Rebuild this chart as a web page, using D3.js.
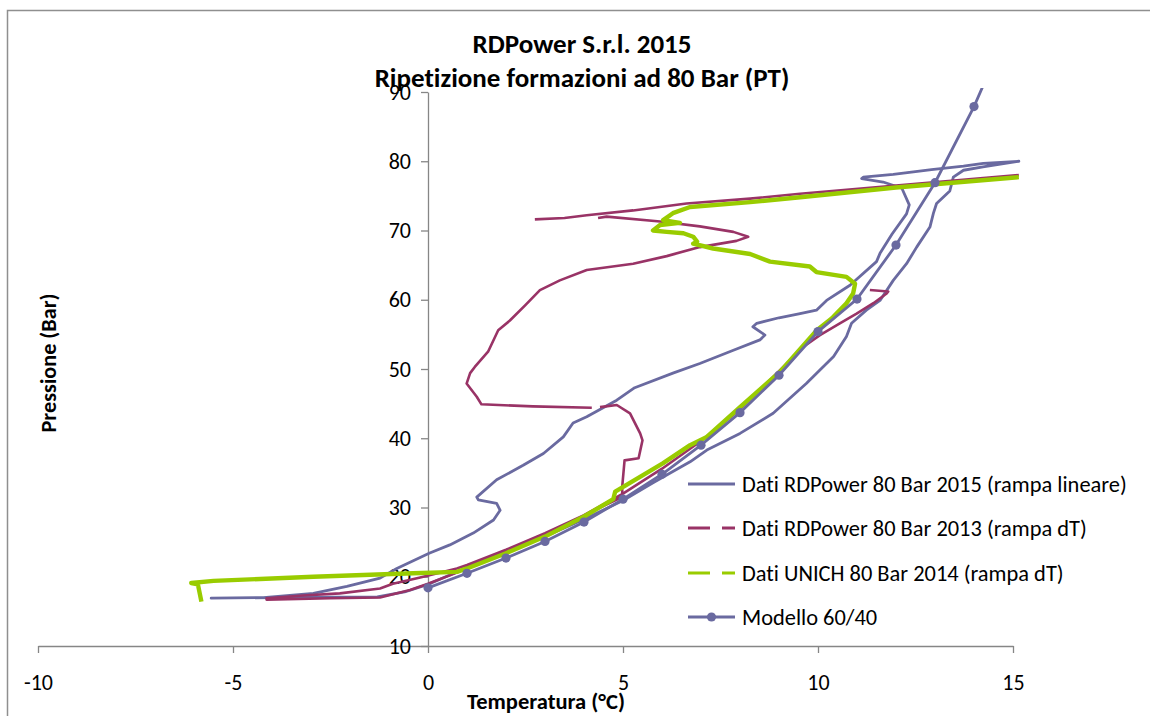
<!DOCTYPE html>
<html>
<head>
<meta charset="utf-8">
<script src="https://cdn.jsdelivr.net/npm/d3@7"></script>
<style>
  html, body { margin: 0; padding: 0; background: #fff; }
  svg { display: block; }
  text { font-family: Carlito, Lato, "Open Sans", sans-serif; fill: #000;
         font-variant-ligatures: none; font-feature-settings: "liga" 0, "clig" 0; }
</style>
</head>
<body>
<svg id="chart" width="1150" height="716"></svg>
<script>
// ---------------- DATA ----------------
const titleLines = ["RDPower S.r.l. 2015", "Ripetizione formazioni ad 80 Bar (PT)"];
const xTitle = "Temperatura (°C)";
const yTitle = "Pressione (Bar)";
const xTicks = [-10, -5, 0, 5, 10, 15];
const yTicks = [10, 20, 30, 40, 50, 60, 70, 80, 90];
const seriesNames = [
  "Dati RDPower 80 Bar 2015 (rampa lineare)",
  "Dati RDPower 80 Bar 2013 (rampa dT)",
  "Dati UNICH 80 Bar 2014 (rampa dT)",
  "Modello 60/40"
];

// Dati RDPower 80 Bar 2015 (rampa lineare): [T, P]
const rdp2015 = [
  [15.15,80.0],[14.24,79.7],[13.73,79.3],[12.91,78.8],[11.93,78.1],[11.16,77.7],[11.12,77.5],
  [11.67,77.0],[12.15,76.1],[12.34,73.7],[12.27,72.4],[11.9,69.5],[11.59,66.7],[11.5,65.5],
  [10.82,62.1],[10.22,59.9],[9.96,58.5],[9.54,58.0],[9.0,57.4],[8.43,56.6],[8.33,56.1],
  [8.64,54.9],[8.51,54.2],[7.83,52.7],[6.97,50.8],[6.28,49.4],[5.3,47.3],[4.84,45.5],
  [4.07,43.1],[3.72,42.2],[3.47,40.2],[2.96,37.8],[2.44,36.1],[1.76,34.0],[1.25,31.5],
  [1.29,31.1],[1.76,30.6],[1.85,29.6],[1.68,28.2],[1.16,26.3],[0.56,24.6],[0.03,23.4],
  [-0.8,21.2],[-1.23,19.8],[-2.08,18.6],[-2.94,17.6],[-4.22,17.0],[-5.56,16.9],
  [-4.0,17.0],[-2.5,17.05],[-1.3,17.1],[-0.6,17.8],[0,18.9],[0.5,20.1],[1,21.3],
  [1.5,22.5],[2,23.5],[3,25.8],[4,28.3],[5,31.0],[5.78,33.6],[6.72,36.6],[7.15,38.3],
  [8,40.7],[8.85,43.6],[9.7,47.9],[10.4,51.8],[10.73,54.7],[10.86,56.6],[11.24,58.5],
  [11.59,59.9],[11.93,62.8],[12.27,65.2],[12.53,67.6],[12.87,70.5],[12.96,72.5],
  [13.04,73.9],[13.38,75.7],[13.47,77.7],[13.73,78.7],[14.23,79.2],[15.15,80.0]
];

// Dati RDPower 80 Bar 2013 (rampa dT): [T, P]; null = gap
const rdp2013 = [
  [15.15,78.0],[12.0,76.5],[9.54,75.3],[8.26,74.6],[6.63,73.9],[5.26,72.9],[4.07,72.2],
  [3.5,71.8],[2.74,71.6],null,
  [4.36,71.8],[4.58,72.0],[5.95,71.3],[6.97,70.6],[7.83,69.8],[8.21,69.1],[7.91,68.5],
  [6.97,67.6],[6.12,66.3],[5.26,65.2],[4.07,64.3],[3.38,62.8],[2.87,61.4],[2.49,59.2],
  [2.1,57.0],[1.8,55.6],[1.54,52.5],[1.2,50.3],[1.08,49.4],[0.99,47.9],[1.25,46.0],
  [1.37,44.9],[2.69,44.6],[4.2,44.4],null,
  [4.41,44.5],[4.84,44.8],[5.18,43.6],[5.44,40.7],[5.5,39.7],[5.4,37.1],[5.04,36.8],
  [4.98,33.0],[4.98,31.5],[4,28.9],[3,26.3],[2,23.9],[1,21.7],[0.74,21.2],[-0.2,19.9],
  [-0.9,19.0],[-1.23,18.3],[-2.26,17.6],[-3.2,17.3],[-4.14,16.9],[-4.14,16.7],
  [-2.5,16.9],[-1.23,17.0],[-0.46,18.1],[0,19.0],[0.74,20.6],[1,21.3],[2,23.6],
  [3,26.1],[4,28.9],[5,32.0],[6,35.6],[7,39.6],[8,44.2],[9.11,50.3],[9.62,53.2],
  [10.05,54.9],[10.56,56.6],[10.99,58.0],[11.42,59.5],[11.76,60.9],[11.8,61.2],[11.33,61.4]
];

// Dati UNICH 80 Bar 2014 (rampa dT): [T, P]
const unich2014 = [
  [15.15,77.7],[12.0,76.2],[9.54,74.8],[8.26,74.1],[6.72,73.4],[6.28,72.5],[6.03,71.5],
  [6.46,71.1],[5.95,70.8],[5.77,70.0],[6.12,69.8],[6.55,69.6],[6.8,69.1],[6.9,68.4],
  [6.8,68.1],[7.31,67.4],[8.26,66.6],[8.77,65.5],[9.79,64.8],[9.96,64.0],[10.73,63.3],
  [10.95,62.3],[10.9,60.9],[10.73,59.5],[10.35,57.3],[9.97,55.6],[9.03,49.6],[8,44.5],
  [7.15,40.2],[6.72,39.0],[6.03,36.4],[4.8,32.3],[4.75,31.2],[4,28.7],[3,25.8],
  [2,23.4],[1,21.2],[0.74,20.7],[-0.38,20.5],[-2.94,20.0],[-5.5,19.4],[-6.07,19.1],
  [-5.9,18.9],[-5.81,16.4]
];

// Modello 60/40
const modelT = [0, 1, 2, 3, 4, 5, 6, 7, 8, 9, 10, 11, 12, 13, 14, 15];
const modelP = [18.4, 20.5, 22.7, 25.1, 27.9, 31.2, 34.8, 39.0, 43.7, 49.1, 55.4, 60.1, 67.9, 76.9, 87.9, 100.8];

// ---------------- STYLE ----------------
const colBlue = "#6a6aa0", colMaroon = "#993366", colGreen = "#99cc00", axisCol = "#868686";

const svg = d3.select("#chart");
svg.append("rect").attr("width", 1150).attr("height", 716).attr("fill", "#fff");
svg.append("rect").attr("x", 7.5).attr("y", 10.5).attr("width", 1300).attr("height", 900)
  .attr("fill", "none").attr("stroke", "#8f8f8f").attr("stroke-width", 1.5);

const x = d3.scaleLinear().domain([-10, 15]).range([38, 1013]);
const y = d3.scaleLinear().domain([10, 90]).range([646, 92]);

function fit(sel, w) {
  const cur = sel.node().getComputedTextLength();
  const fs = parseFloat(sel.style("font-size"));
  sel.style("font-size", (fs * w / cur) + "px");
}

// axes
const fmt = d => String(d);
const xAxis = svg.append("g").attr("transform", `translate(0,${y(10)})`)
  .call(d3.axisBottom(x).tickValues(xTicks).tickFormat(fmt).tickSize(7).tickPadding(21).tickSizeOuter(0));
const yAxis = svg.append("g").attr("transform", `translate(${x(0)},0)`)
  .call(d3.axisLeft(y).tickValues(yTicks).tickFormat(fmt).tickSize(7).tickPadding(10).tickSizeOuter(0));
[xAxis, yAxis].forEach(g => {
  g.attr("font-size", null).attr("font-family", null);
  g.select(".domain").attr("stroke", axisCol).attr("stroke-width", 1.3);
  g.selectAll(".tick line").attr("stroke", axisCol).attr("stroke-width", 1.3);
  g.selectAll(".tick text").attr("fill", "#000")
    .style("font-family", "Carlito, Lato, sans-serif").style("font-size", "22px");
});

// clip
svg.append("clipPath").attr("id", "plotclip").append("rect")
  .attr("x", 20).attr("y", 88).attr("width", 1020).attr("height", 570);

const line = d3.line().defined(d => d !== null).x(d => x(d[0])).y(d => y(d[1]));
const plot = svg.append("g").attr("clip-path", "url(#plotclip)");

plot.append("path").datum(rdp2015).attr("d", line).attr("fill", "none")
  .attr("stroke", colBlue).attr("stroke-width", 2.8).attr("stroke-linejoin", "round").attr("stroke-linecap", "round");
plot.append("path").datum(rdp2013).attr("d", line).attr("fill", "none")
  .attr("stroke", colMaroon).attr("stroke-width", 2.6).attr("stroke-linejoin", "round");
plot.append("path").datum(unich2014).attr("d", line).attr("fill", "none")
  .attr("stroke", colGreen).attr("stroke-width", 4.4).attr("stroke-linejoin", "round");

const model = modelT.map((t, i) => [t, modelP[i]]);
plot.append("path").datum(model).attr("d", line).attr("fill", "none")
  .attr("stroke", colBlue).attr("stroke-width", 2.8);
plot.selectAll("circle.m").data(model.filter(d => d[1] <= 90)).enter().append("circle")
  .attr("class", "m").attr("cx", d => x(d[0])).attr("cy", d => y(d[1])).attr("r", 4.6)
  .attr("fill", colBlue);

// titles
const t1 = svg.append("text").attr("x", 582).attr("y", 53).attr("text-anchor", "middle")
  .style("font-weight", "bold").style("font-size", "22px").text(titleLines[0]);
fit(t1, 219);
const t2 = svg.append("text").attr("x", 582).attr("y", 87).attr("text-anchor", "middle")
  .style("font-weight", "bold").style("font-size", "22px").text(titleLines[1]);
fit(t2, 415);

const xt = svg.append("text").attr("x", 546).attr("y", 709).attr("text-anchor", "middle")
  .style("font-weight", "bold").style("font-size", "18px").text(xTitle);
fit(xt, 158);
const yt = svg.append("text").attr("transform", "translate(56,363) rotate(-90)").attr("text-anchor", "middle")
  .style("font-weight", "bold").style("font-size", "18px").text(yTitle);
fit(yt, 139);

// legend
const legY = [484, 528, 573, 617];
const legStyles = [
  { c: colBlue, dash: null, marker: false },
  { c: colMaroon, dash: "22,12", marker: false },
  { c: colGreen, dash: "22,12", marker: false },
  { c: colBlue, dash: null, marker: true }
];
const leg = svg.append("g");
let legFont = null;
seriesNames.forEach((name, i) => {
  const g = leg.append("g").attr("transform", `translate(0,${legY[i]})`);
  const s = legStyles[i];
  g.append("line").attr("x1", 688).attr("x2", 735).attr("y1", 0).attr("y2", 0)
    .attr("stroke", s.c).attr("stroke-width", 3).attr("stroke-dasharray", s.dash);
  if (s.marker) g.append("circle").attr("cx", 711.5).attr("cy", 0).attr("r", 4.6).attr("fill", s.c);
  const tx = g.append("text").attr("x", 742).attr("y", 0).attr("dy", "0.36em")
    .style("font-size", "19px").text(name);
  if (i === 0) { fit(tx, 385); legFont = tx.style("font-size"); }
  else tx.style("font-size", legFont);
});
</script>
</body>
</html>
